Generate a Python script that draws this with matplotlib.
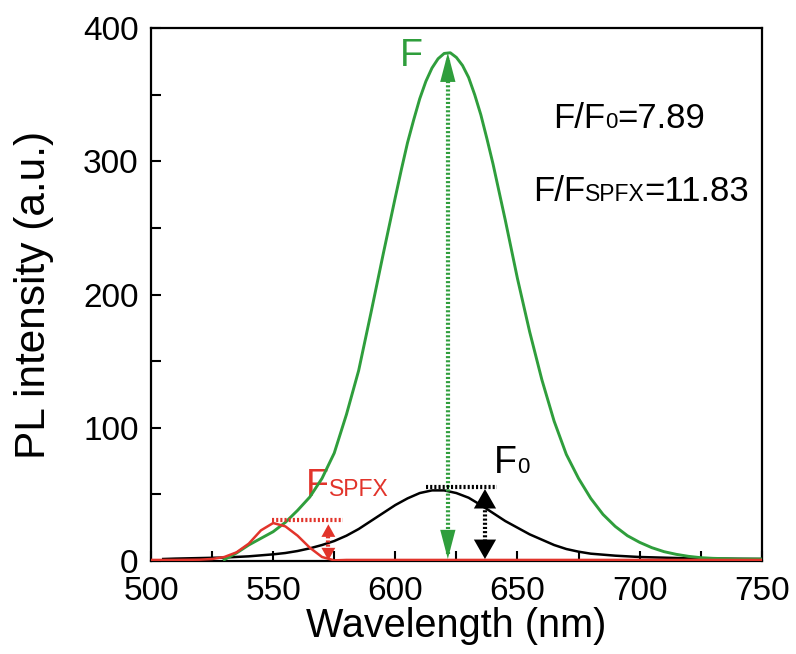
import matplotlib
matplotlib.use('Agg')
import matplotlib.pyplot as plt
from matplotlib.ticker import MultipleLocator
import numpy as np

# PL spectra (nm, a.u.)
wl_green = [530, 535, 540, 545, 550, 555, 560, 565, 570, 575, 580, 585, 590, 595,
            600, 602.5, 605, 607.5, 610, 612.5, 615, 617.5, 620, 622.5, 625, 627.5,
            630, 632.5, 635, 637.5, 640, 642.5, 645, 650, 655, 660, 665, 670, 675,
            680, 685, 690, 695, 700, 705, 710, 715, 720, 725, 730, 740, 750]
pl_green = [1, 6, 12, 17, 22, 29, 38, 48, 62, 81, 110, 143, 186, 230,
            273, 294, 314, 331, 347, 360, 370, 377, 381, 381.5, 378, 372,
            363, 350, 335, 317, 298, 277, 256, 212, 172, 136, 105, 80, 62,
            47, 35, 26, 19, 14, 10, 7, 5, 3.5, 2.5, 2, 1.5, 1.5]

wl_black = [505, 510, 520, 530, 540, 550, 555, 560, 565, 570, 575, 580, 585, 590,
            595, 600, 605, 610, 615, 620, 625, 630, 635, 640, 645, 650, 655, 660,
            665, 670, 675, 680, 690, 700, 710, 720, 730, 750]
pl_black = [1.5, 1.8, 2.2, 2.6, 3.5, 5, 6, 7.5, 9.5, 12, 15, 19, 24, 30,
            36, 42, 47, 51, 53, 53, 51, 47.5, 42, 36, 30, 25, 20, 16,
            12, 9, 7, 5.5, 4, 3, 2.5, 2, 1.8, 1.5]

wl_red = [500, 510, 520, 525, 530, 535, 540, 545, 550, 555, 560, 565, 570, 575,
          580, 600, 650, 700, 750]
pl_red = [0.8, 0.8, 1, 1.5, 3, 6.5, 13, 23, 28.5, 26, 19, 10, 3, 0.5,
          0.8, 0.8, 0.8, 0.8, 0.8]

ratio_f0 = '7.89'
ratio_spfx = '11.83'

green = '#2f9e3c'
red = '#e2342b'

plt.rcParams['font.family'] = ['Liberation Sans', 'DejaVu Sans']

fig = plt.figure(figsize=(7.96, 6.54), dpi=100)
ax = fig.add_axes([0.1897, 0.1422, 0.957 - 0.1897, 0.957 - 0.1422])

ax.plot(wl_black, pl_black, color='black', lw=1.8, zorder=3)
ax.plot(wl_green, pl_green, color=green, lw=2.1, zorder=4)
ax.plot(wl_red, pl_red, color=red, lw=1.8, zorder=5)

ax.set_xlim(500, 750)
ax.set_ylim(0, 400)
ax.xaxis.set_major_locator(MultipleLocator(50))
ax.xaxis.set_minor_locator(MultipleLocator(25))
ax.yaxis.set_major_locator(MultipleLocator(100))
ax.yaxis.set_minor_locator(MultipleLocator(50))
ax.tick_params(which='both', direction='in', length=7, width=1.5,
               top=False, right=False, labelsize=24)
ax.tick_params(axis='x', pad=11)
ax.tick_params(axis='y', pad=9)
for s in ax.spines.values():
    s.set_linewidth(1.6)

ax.set_xlabel('Wavelength (nm)', fontsize=28.5, labelpad=0)
ax.set_ylabel('PL intensity (a.u.)', fontsize=30.5, labelpad=21)


def double_arrow(x, top, bottom, color, hl, hw):
    ax.plot([x, x], [bottom + 4, top - 4], color=color, lw=3.0,
            ls=(0, (0.5, 0.5)), zorder=6)
    for tip, base in [(top, top - 40), (bottom, bottom + 40)]:
        ax.annotate('', xy=(x, tip), xytext=(x, base),
                    arrowprops=dict(arrowstyle=f'-|>,head_length={hl},head_width={hw}',
                                    color=color, lw=0, shrinkA=0, shrinkB=0,
                                    mutation_scale=1), zorder=7)


def flat_line(x0, x1, y, color):
    ax.plot([x0, x1], [y, y], color=color, lw=3.0, ls=(0, (0.5, 0.5)), zorder=6)


renderer = fig.canvas.get_renderer()


def label(x, y, parts, color):
    # pieces of text on one baseline, small ones act as subscripts
    dx = 0
    for s, size in parts:
        t = ax.annotate(s, xy=(x, y), xytext=(dx, 0), textcoords='offset points',
                        fontsize=size, color=color, va='baseline', ha='left')
        dx += t.get_window_extent(renderer).width * 72 / fig.dpi


# green: F
g_peak = max(pl_green)
g_x = wl_green[pl_green.index(g_peak)]
double_arrow(g_x - 1, g_peak, 1.5, green, 21, 5.5)

# black: F0
b_peak = max(pl_black)
flat_line(612.5, 641.5, b_peak + 2.5, 'black')
double_arrow(636.7, b_peak + 1, 1.5, 'black', 14, 8)

# red: FSPFX
r_peak = max(pl_red)
flat_line(549.5, 578.5, r_peak + 2, red)
double_arrow(572.6, r_peak - 1, 0.5, red, 9, 5)

label(601.9, 371.5, [('F', 27)], green)
label(563.3, 48.8, [('F', 27), ('SPFX', 16.5)], red)
label(640.5, 66.3, [('F', 27), ('0', 16)], 'black')
label(664.5, 325, [('F/F', 25), ('0', 16), ('=' + ratio_f0, 25)], 'black')
label(656.3, 270, [('F/F', 25), ('SPFX', 16.5), ('=' + ratio_spfx, 25)], 'black')

fig.savefig('out.png', dpi=100)
